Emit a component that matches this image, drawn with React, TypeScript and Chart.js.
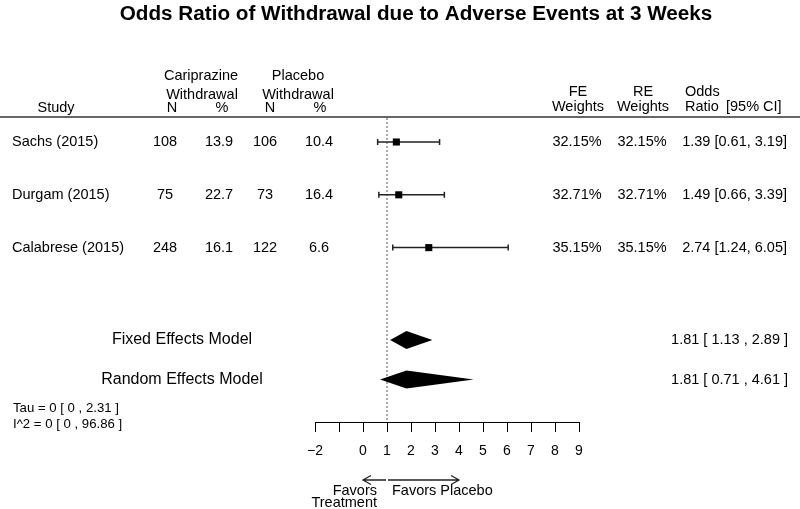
import React, { useEffect, useRef } from 'react';
import { Chart, registerables } from 'chart.js';

Chart.register(...registerables);

const title = 'Odds Ratio of Withdrawal due to Adverse Events at 3 Weeks';
const studies = ['Sachs (2015)', 'Durgam (2015)', 'Calabrese (2015)'];
const studyRows = [0, 4, 8];
const cariN = ['108', '75', '248'];
const cariPct = ['13.9', '22.7', '16.1'];
const placeboN = ['106', '73', '122'];
const placeboPct = ['10.4', '16.4', '6.6'];
const feWeights = ['32.15%', '32.71%', '35.15%'];
const reWeights = ['32.15%', '32.71%', '35.15%'];
const oddsRatio = [1.39, 1.49, 2.74];
const ciLow = [0.61, 0.66, 1.24];
const ciHigh = [3.19, 3.39, 6.05];
const ciText = ['1.39 [0.61, 3.19]', '1.49 [0.66, 3.39]', '2.74 [1.24, 6.05]'];

const summaryLabels = ['Fixed Effects Model', 'Random Effects Model'];
const summaryRows = [15, 18];
const summaryOR = [1.81, 1.81];
const summaryLow = [1.13, 0.71];
const summaryHigh = [2.89, 4.61];
const summaryText = ['1.81 [ 1.13 , 2.89 ]', '1.81 [ 0.71 , 4.61 ]'];

const hetText = ['Tau = 0 [ 0 , 2.31 ]', 'I^2 = 0 [ 0 , 96.86 ]'];
const tickValues = [-2, -1, 0, 1, 2, 3, 4, 5, 6, 7, 8, 9];
const tickLabels = ['\u22122', '', '0', '1', '2', '3', '4', '5', '6', '7', '8', '9'];
const nullValue = 1;
const favorsLeftTo = 0;
const favorsRightTo = 4;

const FONT = '"Liberation Sans", Arial, sans-serif';

export default function App() {
  const ref = useRef<HTMLCanvasElement>(null);

  useEffect(() => {
    const canvas = ref.current;
    if (!canvas) return;

    const textPlugin = {
      id: 'forestText',
      beforeDatasetsDraw(chart: any) {
        const { ctx, chartArea, scales } = chart;
        const xs = scales.x;
        ctx.save();
        ctx.strokeStyle = '#333';
        ctx.lineWidth = 1.5;
        ctx.beginPath();
        ctx.moveTo(0, chartArea.top);
        ctx.lineTo(800, chartArea.top);
        ctx.stroke();
        const px = xs.getPixelForValue(nullValue);
        ctx.strokeStyle = '#555';
        ctx.lineWidth = 1;
        ctx.setLineDash([2, 2]);
        ctx.beginPath();
        ctx.moveTo(px, chartArea.top + 1);
        ctx.lineTo(px, chartArea.bottom);
        ctx.stroke();
        ctx.restore();
      },
      afterDraw(chart: any) {
        const { ctx, chartArea, scales } = chart;
        const xs = scales.x;
        const ys = scales.y;
        const top = chartArea.top;
        ctx.save();
        ctx.fillStyle = '#000';
        ctx.textBaseline = 'middle';

        ctx.font = `bold 20.7px ${FONT}`;
        ctx.textAlign = 'center';
        ctx.fillText(title, 416, 14);

        ctx.font = `14.5px ${FONT}`;
        ctx.textAlign = 'center';
        ctx.fillText('Cariprazine', 201, top - 41);
        ctx.fillText('Placebo', 298, top - 41);
        ctx.fillText('Withdrawal', 202, top - 22);
        ctx.fillText('Withdrawal', 298, top - 22);
        ctx.fillText('Study', 56, top - 9);
        ctx.fillText('N', 172, top - 9);
        ctx.fillText('%', 222, top - 9);
        ctx.fillText('N', 270, top - 9);
        ctx.fillText('%', 320, top - 9);
        ctx.fillText('FE', 578, top - 25);
        ctx.fillText('Weights', 578, top - 10);
        ctx.fillText('RE', 643, top - 25);
        ctx.fillText('Weights', 643, top - 10);
        ctx.textAlign = 'left';
        ctx.fillText('Odds', 685, top - 25);
        ctx.fillText('Ratio', 685, top - 10);
        ctx.fillText('[95% CI]', 726, top - 10);

        studies.forEach((s, i) => {
          const y = ys.getPixelForValue(studyRows[i]);
          ctx.textAlign = 'left';
          ctx.fillText(s, 12, y);
          ctx.textAlign = 'center';
          ctx.fillText(cariN[i], 165, y);
          ctx.fillText(cariPct[i], 219, y);
          ctx.fillText(placeboN[i], 265, y);
          ctx.fillText(placeboPct[i], 319, y);
          ctx.fillText(feWeights[i], 577, y);
          ctx.fillText(reWeights[i], 642, y);
          ctx.textAlign = 'right';
          ctx.fillText(ciText[i], 787, y);
        });

        summaryLabels.forEach((lab, i) => {
          const y = ys.getPixelForValue(summaryRows[i]);
          const h = 9;
          ctx.fillStyle = '#000';
          ctx.beginPath();
          ctx.moveTo(xs.getPixelForValue(summaryLow[i]), y);
          ctx.lineTo(xs.getPixelForValue(summaryOR[i]), y - h);
          ctx.lineTo(xs.getPixelForValue(summaryHigh[i]), y);
          ctx.lineTo(xs.getPixelForValue(summaryOR[i]), y + h);
          ctx.closePath();
          ctx.fill();
          ctx.font = `16px ${FONT}`;
          ctx.textAlign = 'center';
          ctx.fillText(lab, 182, y);
          ctx.font = `14.5px ${FONT}`;
          ctx.textAlign = 'right';
          ctx.fillText(summaryText[i], 788, y);
        });

        ctx.font = `13.2px ${FONT}`;
        ctx.textAlign = 'left';
        ctx.fillText(hetText[0], 13, 408);
        ctx.fillText(hetText[1], 13, 424);

        const p1 = xs.getPixelForValue(nullValue);
        const pL = xs.getPixelForValue(favorsLeftTo);
        const pR = xs.getPixelForValue(favorsRightTo);
        const ay = 480;
        ctx.strokeStyle = '#222';
        ctx.lineWidth = 1.3;
        ctx.beginPath();
        ctx.moveTo(p1 - 1, ay);
        ctx.lineTo(pL, ay);
        ctx.moveTo(pL + 8, ay - 4.5);
        ctx.lineTo(pL, ay);
        ctx.lineTo(pL + 8, ay + 4.5);
        ctx.moveTo(p1 + 1, ay);
        ctx.lineTo(pR, ay);
        ctx.moveTo(pR - 8, ay - 4.5);
        ctx.lineTo(pR, ay);
        ctx.lineTo(pR - 8, ay + 4.5);
        ctx.stroke();
        ctx.font = `14.5px ${FONT}`;
        ctx.textAlign = 'right';
        ctx.fillText('Favors', p1 - 10, 491);
        ctx.fillText('Treatment', p1 - 10, 503);
        ctx.textAlign = 'left';
        ctx.fillText('Favors Placebo', p1 + 5, 491);
        ctx.restore();
      },
    };

    const ciDatasets = studies.map((s, i) => ({
      type: 'scatter' as const,
      label: s + ' CI',
      data: [
        { x: ciLow[i], y: studyRows[i] },
        { x: ciHigh[i], y: studyRows[i] },
      ],
      showLine: true,
      borderColor: '#222',
      borderWidth: 1.5,
      pointStyle: 'line' as const,
      pointRotation: 90,
      pointRadius: 3,
      pointBorderWidth: 1.5,
      pointBorderColor: '#222',
      pointBackgroundColor: '#222',
    }));

    const chart = new Chart(canvas, {
      type: 'scatter',
      data: {
        datasets: [
          {
            label: 'Odds ratio',
            data: studies.map((_, i) => ({ x: oddsRatio[i], y: studyRows[i] })),
            pointStyle: 'rect',
            pointRadius: 5,
            backgroundColor: '#000',
            borderColor: '#000',
            borderWidth: 0,
          },
          ...ciDatasets,
        ] as any,
      },
      options: {
        animation: false,
        responsive: false,
        devicePixelRatio: 1,
        layout: { padding: { left: 315, right: 221, top: 117, bottom: 0 } },
        plugins: {
          legend: { display: false },
          tooltip: { enabled: false },
          title: { display: false },
        },
        scales: {
          x: {
            type: 'linear',
            position: 'bottom',
            min: -2,
            max: 9,
            afterBuildTicks: (s: any) => {
              s.ticks = tickValues.map((v) => ({ value: v }));
            },
            afterFit: (s: any) => {
              s.height = 87;
            },
            ticks: {
              autoSkip: false,
              maxRotation: 0,
              padding: 11,
              color: '#000',
              font: { family: FONT, size: 14 },
              callback: (v: any) => {
                const idx = tickValues.indexOf(Number(v));
                return idx >= 0 ? tickLabels[idx] : '';
              },
            },
            grid: {
              drawOnChartArea: false,
              drawTicks: true,
              tickLength: 10,
              color: '#000',
              lineWidth: 1,
            },
            border: { display: true, color: '#000', width: 1 },
          },
          y: {
            type: 'linear',
            display: false,
            reverse: true,
            min: -1.894,
            max: 21.21,
          },
        },
      },
      plugins: [textPlugin],
    });

    return () => chart.destroy();
  }, []);

  return (
    <div style={{ position: 'fixed', left: 0, top: 0, width: 800, height: 509, background: '#fff' }}>
      <canvas ref={ref} width={800} height={509} style={{ display: 'block', width: 800, height: 509 }} />
    </div>
  );
}
